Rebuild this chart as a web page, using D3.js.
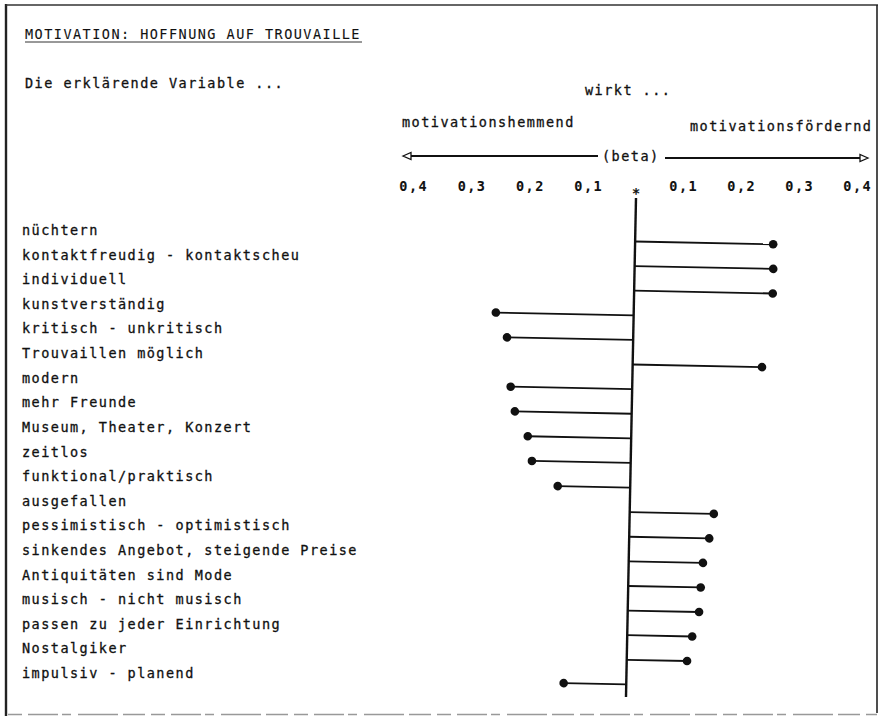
<!DOCTYPE html>
<html>
<head>
<meta charset="utf-8">
<script src="https://cdn.jsdelivr.net/npm/d3@7"></script>
<style>
  html, body { margin: 0; padding: 0; background: #ffffff; }
  svg { display: block; }
  text { font-family: "DejaVu Sans Mono", "Liberation Mono", monospace; font-size: 13.5px; fill: #111; stroke: #111; stroke-width: 0.3px; letter-spacing: 1.47px; }
</style>
</head>
<body>
<script>
// ---- data ----
const categories = [
  "nüchtern",
  "kontaktfreudig - kontaktscheu",
  "individuell",
  "kunstverständig",
  "kritisch - unkritisch",
  "Trouvaillen möglich",
  "modern",
  "mehr Freunde",
  "Museum, Theater, Konzert",
  "zeitlos",
  "funktional/praktisch",
  "ausgefallen",
  "pessimistisch - optimistisch",
  "sinkendes Angebot, steigende Preise",
  "Antiquitäten sind Mode",
  "musisch - nicht musisch",
  "passen zu jeder Einrichtung",
  "Nostalgiker",
  "impulsiv - planend"
];
const betaValues = [0.257, 0.258, 0.258, -0.254, -0.234, 0.242, -0.226, -0.218, -0.195, -0.187,
                    -0.142, 0.164, 0.157, 0.147, 0.144, 0.142, 0.131, 0.123, -0.125];
const tickValues = [-0.4, -0.3, -0.2, -0.1, 0, 0.1, 0.2, 0.3, 0.4];
const tickLabels = ["0,4", "0,3", "0,2", "0,1", "*", "0,1", "0,2", "0,3", "0,4"];
const titleText = "MOTIVATION: HOFFNUNG AUF TROUVAILLE";
const introText = "Die erklärende Variable ...";
const effectText = "wirkt ...";
const negText = "motivationshemmend";
const posText = "motivationsfördernd";
const betaText = "(beta)";

// ---- layout ----
const W = 880, H = 716;
const svg = d3.select("body").append("svg").attr("width", W).attr("height", H);

// typewriter-spaced beta scale (piecewise as typed on the sheet)
const x = d3.scaleLinear()
  .domain([-0.4, -0.1, 0, 0.1, 0.4])
  .range([413, 588, 636, 683, 857]);
const y = d3.scalePoint().domain(categories).range([235, 678]);
const stemOffset = 6.5;

// frame
svg.append("line").attr("x1", 6).attr("y1", 4).attr("x2", 6).attr("y2", 716)
  .attr("stroke", "#222").attr("stroke-width", 2.4);
svg.append("line").attr("x1", 6).attr("y1", 5).attr("x2", 878).attr("y2", 5)
  .attr("stroke", "#333").attr("stroke-width", 1.5);
svg.append("line").attr("x1", 877).attr("y1", 5).attr("x2", 877).attr("y2", 713)
  .attr("stroke", "#222").attr("stroke-width", 1.6);
svg.append("line").attr("x1", 8).attr("y1", 714.5).attr("x2", 877).attr("y2", 714.5)
  .attr("stroke", "#999").attr("stroke-width", 1.5)
  .attr("stroke-dasharray", "14 6 30 4 9 7 40 5 22 6");

// title
svg.append("text").attr("x", 25).attr("y", 39).style("stroke-width", "0.1px").text(titleText);
svg.append("line").attr("x1", 25).attr("y1", 42).attr("x2", 362).attr("y2", 42)
  .attr("stroke", "#333").attr("stroke-width", 1);

svg.append("text").attr("x", 25).attr("y", 88).text(introText);
svg.append("text").attr("x", 585).attr("y", 95).text(effectText);
svg.append("text").attr("x", 402).attr("y", 127).text(negText);
svg.append("text").attr("x", 690).attr("y", 131).text(posText);
svg.append("text").attr("x", 602).attr("y", 161).text(betaText);

// direction arrows
function openArrow(x1, x2, yy) {
  svg.append("line").attr("x1", x1).attr("y1", yy).attr("x2", x2).attr("y2", yy)
    .attr("stroke", "#111").attr("stroke-width", 1.8);
}
openArrow(409, 598, 156);
openArrow(665, 862, 158);
svg.append("path").attr("d", "M403,156 L411,152.5 L411,159.5 Z")
  .attr("fill", "#fff").attr("stroke", "#111").attr("stroke-width", 1.3);
svg.append("path").attr("d", "M868,158 L860,154.5 L860,161.5 Z")
  .attr("fill", "#fff").attr("stroke", "#111").attr("stroke-width", 1.3);

// tick labels from the scale
svg.append("g").selectAll("text")
  .data(tickValues)
  .join("text")
  .attr("x", d => x(d) + 0.7)
  .attr("y", d => d === 0 ? 198 : 191)
  .attr("text-anchor", "middle")
  .style("font-weight", "bold")
  .style("stroke-width", "0.1px")
  .text((d, i) => tickLabels[i]);

// category labels
svg.append("g").selectAll("text")
  .data(categories)
  .join("text")
  .attr("x", 22)
  .attr("y", d => y(d))
  .text(d => d);

// plot (hand-drawn, slightly rotated on the sheet)
const plot = svg.append("g").attr("transform", `rotate(1.15, ${x(0)}, 198)`);
plot.append("line")
  .attr("x1", x(0)).attr("y1", 198).attr("x2", x(0)).attr("y2", 697)
  .attr("stroke", "#111").attr("stroke-width", 2.4);

const rows = categories.map((c, i) => ({ c, v: betaValues[i] }));
plot.append("g").selectAll("line")
  .data(rows)
  .join("line")
  .attr("x1", x(0))
  .attr("x2", d => x(d.v))
  .attr("y1", d => y(d.c) + stemOffset)
  .attr("y2", d => y(d.c) + stemOffset)
  .attr("stroke", "#111").attr("stroke-width", 1.8);
plot.append("g").selectAll("circle")
  .data(rows)
  .join("circle")
  .attr("cx", d => x(d.v))
  .attr("cy", d => y(d.c) + stemOffset)
  .attr("r", 4.3)
  .attr("fill", "#111");
</script>
</body>
</html>
